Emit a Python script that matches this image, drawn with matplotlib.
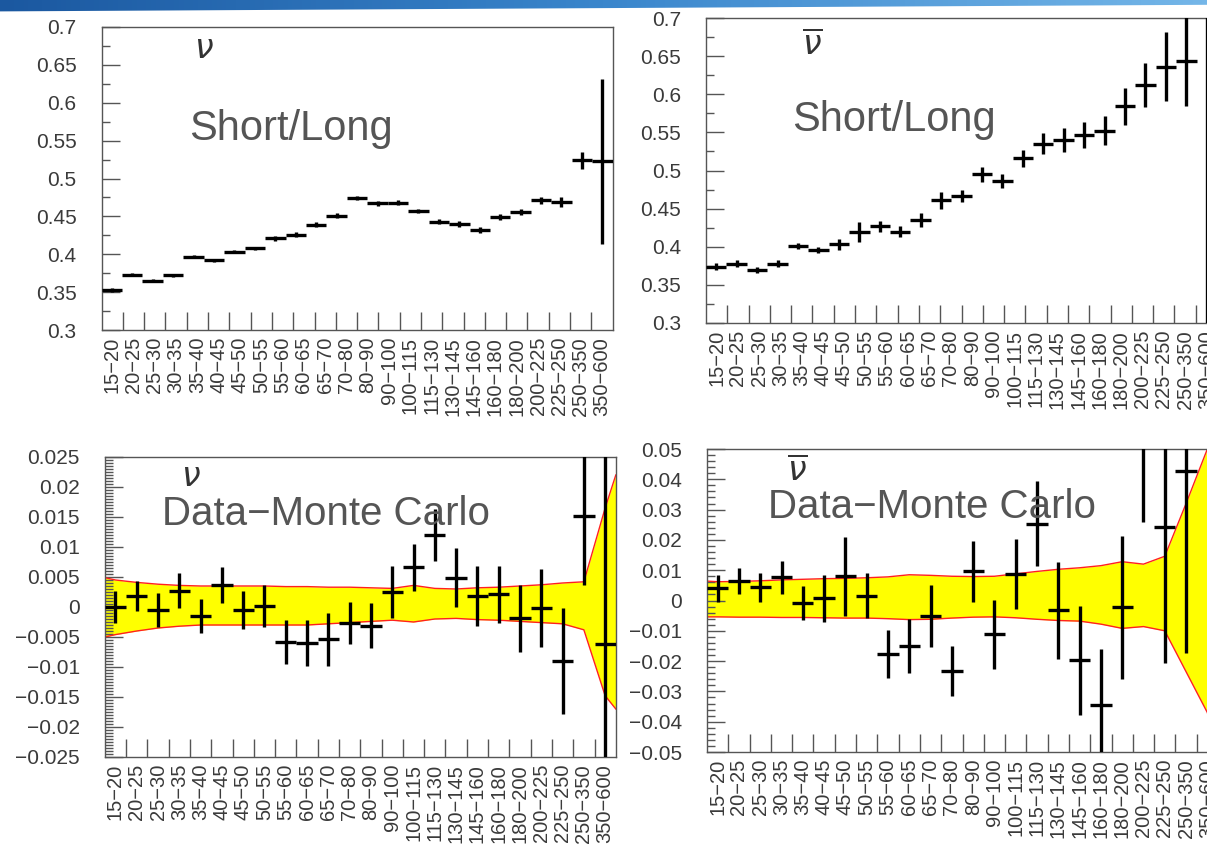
import numpy as np
import matplotlib
matplotlib.use("Agg")
import matplotlib.pyplot as plt
from matplotlib.ticker import MultipleLocator, FuncFormatter
from matplotlib.colors import LinearSegmentedColormap
from matplotlib.patches import Polygon

plt.rcParams['font.family'] = ['Liberation Sans', 'DejaVu Sans']

# energy bin edges (GeV) used for the axis labels
edges = [15, 20, 25, 30, 35, 40, 45, 50, 55, 60, 65, 70, 80, 90, 100,
         115, 130, 145, 160, 180, 200, 225, 250, 350, 600]

# short/long ratio, neutrinos (25 histogram bins)
nu_ratio = [0.353, 0.373, 0.365, 0.372, 0.397, 0.392, 0.403, 0.408, 0.421,
            0.426, 0.439, 0.451, 0.474, 0.467, 0.468, 0.457, 0.443, 0.440,
            0.432, 0.449, 0.456, 0.471, 0.469, 0.524, 0.523]
nu_ratio_err = [0.003, 0.002, 0.002, 0.002, 0.002, 0.002, 0.002, 0.002,
                0.003, 0.003, 0.003, 0.003, 0.003, 0.003, 0.003, 0.003,
                0.003, 0.004, 0.004, 0.004, 0.004, 0.005, 0.007, 0.011, 0.109]

# short/long ratio, antineutrinos
nubar_ratio = [0.374, 0.378, 0.370, 0.378, 0.401, 0.396, 0.403, 0.419,
               0.427, 0.420, 0.435, 0.461, 0.467, 0.495, 0.486, 0.516,
               0.535, 0.540, 0.546, 0.552, 0.584, 0.612, 0.636, 0.644, 0.720]
nubar_ratio_err = [0.005, 0.004, 0.004, 0.004, 0.004, 0.004, 0.007, 0.013,
                   0.007, 0.007, 0.009, 0.011, 0.008, 0.010, 0.009, 0.011,
                   0.014, 0.016, 0.017, 0.019, 0.024, 0.029, 0.045, 0.059,
                   0.450]

# data - MC, neutrinos
nu_diff = [0.0, 0.0018, -0.0005, 0.0027, -0.0015, 0.0037, -0.0005, 0.0001,
           -0.0058, -0.006, -0.0054, -0.0026, -0.0031, 0.0025, 0.0066, 0.012,
           0.0049, 0.0018, 0.0021, -0.0019, -0.0001, -0.009, 0.0152, -0.0061]
nu_diff_err = [0.0027, 0.0025, 0.0028, 0.0029, 0.0029, 0.003, 0.0031, 0.0035,
               0.0037, 0.0039, 0.0044, 0.0035, 0.0038, 0.0044, 0.0039, 0.0044,
               0.0049, 0.005, 0.0048, 0.0056, 0.0065, 0.0089, 0.0116, 0.034]
nu_band_hi = [0.0045, 0.0041, 0.0038, 0.0036, 0.0035, 0.0035, 0.0035, 0.0035,
              0.0034, 0.0034, 0.0033, 0.0033, 0.0032, 0.0031, 0.0036, 0.0031,
              0.003, 0.0032, 0.0033, 0.0035, 0.0037, 0.004, 0.0042, 0.0165]
nu_band_lo = [-0.0046, -0.004, -0.0035, -0.0032, -0.003, -0.003, -0.003,
              -0.003, -0.003, -0.003, -0.0028, -0.0026, -0.0024, -0.0022,
              -0.0025, -0.002, -0.0019, -0.0021, -0.0022, -0.0024, -0.0026,
              -0.0028, -0.0038, -0.0148]
nu_band_ends = [(0.0049, -0.005), (0.022, -0.017)]

# data - MC, antineutrinos (last bin runs off the page)
nubar_diff = [0.004, 0.0064, 0.0044, 0.0077, -0.0008, 0.0007, 0.008, 0.0016,
              -0.0177, -0.015, -0.0051, -0.0232, 0.0096, -0.0112, 0.0087,
              0.0253, -0.0033, -0.0198, -0.0344, -0.0023, 0.070, 0.0242, 0.0427]
nubar_diff_err = [0.0045, 0.0044, 0.0048, 0.0054, 0.0055, 0.0077, 0.013,
                  0.0074, 0.008, 0.0089, 0.0103, 0.0083, 0.010, 0.0114, 0.0116,
                  0.014, 0.016, 0.018, 0.0185, 0.0237, 0.044, 0.0447, 0.060]
nubar_band_hi = [0.0062, 0.0063, 0.0065, 0.0068, 0.007, 0.0072, 0.0073,
                 0.0075, 0.0078, 0.0085, 0.0083, 0.008, 0.0079, 0.008, 0.0088,
                 0.0096, 0.0103, 0.0108, 0.0115, 0.0128, 0.012, 0.0146, 0.032,
                 0.050]
nubar_band_lo = [-0.0054, -0.0055, -0.0055, -0.0056, -0.0056, -0.0057,
                 -0.0058, -0.0058, -0.006, -0.0063, -0.0062, -0.0058, -0.0055,
                 -0.0054, -0.0057, -0.0062, -0.0066, -0.0068, -0.0078, -0.0092,
                 -0.0086, -0.010, -0.0235, -0.037]
nubar_band_ends = [(0.0064, -0.0054), (0.068, -0.05)]

nbins = len(edges) - 1
bin_labels = ['%d\u2212%d' % (a, b) for a, b in zip(edges[:-1], edges[1:])]

W, H = 1207, 857
fig = plt.figure(figsize=(W / 100, H / 100), dpi=100)
fig.patch.set_facecolor('white')

txt_col = '#3a3a3a'


def fmt(v, pos):
    v = round(v, 6) + 0.0
    if abs(v) < 1e-9:
        return '0'
    return ('%g' % v).replace('-', '\u2212')


def make_axes(box, ylo, yhi, major, minor):
    l, t, w, h = box
    ax = fig.add_axes([l / W, 1 - (t + h) / H, w / W, h / H])
    ax.set_xlim(0, nbins)
    ax.set_ylim(ylo, yhi)
    for s in ax.spines.values():
        s.set_color('#555555')
        s.set_linewidth(1.0)
    # bin boundaries as inside ticks, labels at bin centres
    ax.set_xticks(np.arange(1, nbins))
    ax.set_xticklabels([])
    ax.set_xticks(np.arange(nbins) + 0.5, bin_labels, minor=True)
    ax.tick_params(axis='x', which='major', direction='in', length=13,
                   width=1, color='#555555')
    ax.tick_params(axis='x', which='minor', length=0, pad=5, labelsize=14.5,
                   labelrotation=90, labelcolor=txt_col)
    for lab in ax.get_xticklabels(minor=True):
        lab.set_verticalalignment('top')
    ax.yaxis.set_major_locator(MultipleLocator(major))
    ax.yaxis.set_minor_locator(MultipleLocator(minor))
    ax.yaxis.set_major_formatter(FuncFormatter(fmt))
    ax.tick_params(axis='y', which='major', direction='in', length=13,
                   width=1, color='#555555', pad=18, labelsize=15,
                   labelcolor=txt_col)
    ax.tick_params(axis='y', which='minor', direction='in', length=6,
                   width=1, color='#555555')
    return ax


def ratio_points(ax, vals, errs):
    n = len(vals)
    step = nbins / n
    x = (np.arange(n) + 0.5) * step
    ax.errorbar(x, vals, xerr=step / 2, yerr=errs, fmt='none',
                ecolor='black', elinewidth=2.4, capsize=0, zorder=3)


def diff_points(ax, vals, errs, hi, lo, ends):
    xc = np.arange(nbins) + 0.5
    xb = np.concatenate([[0], xc, [nbins]])
    yhi = np.concatenate([[ends[0][0]], hi, [ends[1][0]]])
    ylo = np.concatenate([[ends[0][1]], lo, [ends[1][1]]])
    ax.fill_between(xb, ylo, yhi, color='#ffff00', lw=0, zorder=1)
    ax.plot(xb, yhi, color='#ff2020', lw=1.0, zorder=2)
    ax.plot(xb, ylo, color='#ff2020', lw=1.0, zorder=2)
    x = xc[:len(vals)]
    ax.errorbar(x, vals, xerr=0.5, yerr=errs, fmt='none',
                ecolor='black', elinewidth=2.4, capsize=0, zorder=3)


big = dict(fontsize=29, color='#555555')
nu_kw = dict(fontsize=24, color='#333333', ha='center', va='center')

ax1 = make_axes((101.6, 27, 511, 303), 0.3, 0.7, 0.05, 0.025)
ratio_points(ax1, nu_ratio, nu_ratio_err)
ax1.text(0.20, 0.925, r'$\nu$', transform=ax1.transAxes, **nu_kw)
ax1.text(0.172, 0.665, 'Short/Long', transform=ax1.transAxes,
         va='center', fontsize=30, color='#555555')

ax2 = make_axes((706, 18, 511, 305), 0.3, 0.7, 0.05, 0.025)
ratio_points(ax2, nubar_ratio, nubar_ratio_err)
ax2.text(0.209, 0.91, r'$\overline{\nu}$', transform=ax2.transAxes, **nu_kw)
ax2.text(0.169, 0.665, 'Short/Long', transform=ax2.transAxes,
         va='center', fontsize=30, color='#555555')

ax3 = make_axes((104.8, 457, 511, 300), -0.025, 0.025, 0.005, 0.0005)
diff_points(ax3, nu_diff, nu_diff_err, nu_band_hi, nu_band_lo, nu_band_ends)
ax3.text(0.168, 0.93, r'$\nu$', transform=ax3.transAxes, **nu_kw)
ax3.text(0.112, 0.81, 'Data\u2212Monte Carlo', transform=ax3.transAxes,
         va='center', **big)

ax4 = make_axes((707, 449, 511, 303), -0.05, 0.05, 0.01, 0.002)
diff_points(ax4, nubar_diff, nubar_diff_err, nubar_band_hi, nubar_band_lo,
            nubar_band_ends)
ax4.text(0.176, 0.925, r'$\overline{\nu}$', transform=ax4.transAxes, **nu_kw)
ax4.text(0.120, 0.808, 'Data\u2212Monte Carlo', transform=ax4.transAxes,
         va='center', **big)

# slide header strip along the top edge
bar = fig.add_axes([0, 1 - 12 / H, 1, 12 / H])
bar.set_xlim(0, 1)
bar.set_ylim(0, 1)
bar.axis('off')
cmap = LinearSegmentedColormap.from_list('hdr', ['#1b58a0', '#3a86cc', '#74b6e8'])
im = bar.imshow(np.linspace(0, 1, 256)[None, :], aspect='auto', cmap=cmap,
                extent=[0, 1, 0, 1])
clip = Polygon([(0, 1), (1, 1), (1, 0.6), (0, 0.05)], closed=True,
               transform=bar.transData)
im.set_clip_path(clip)

fig.savefig('out.png', dpi=100)
